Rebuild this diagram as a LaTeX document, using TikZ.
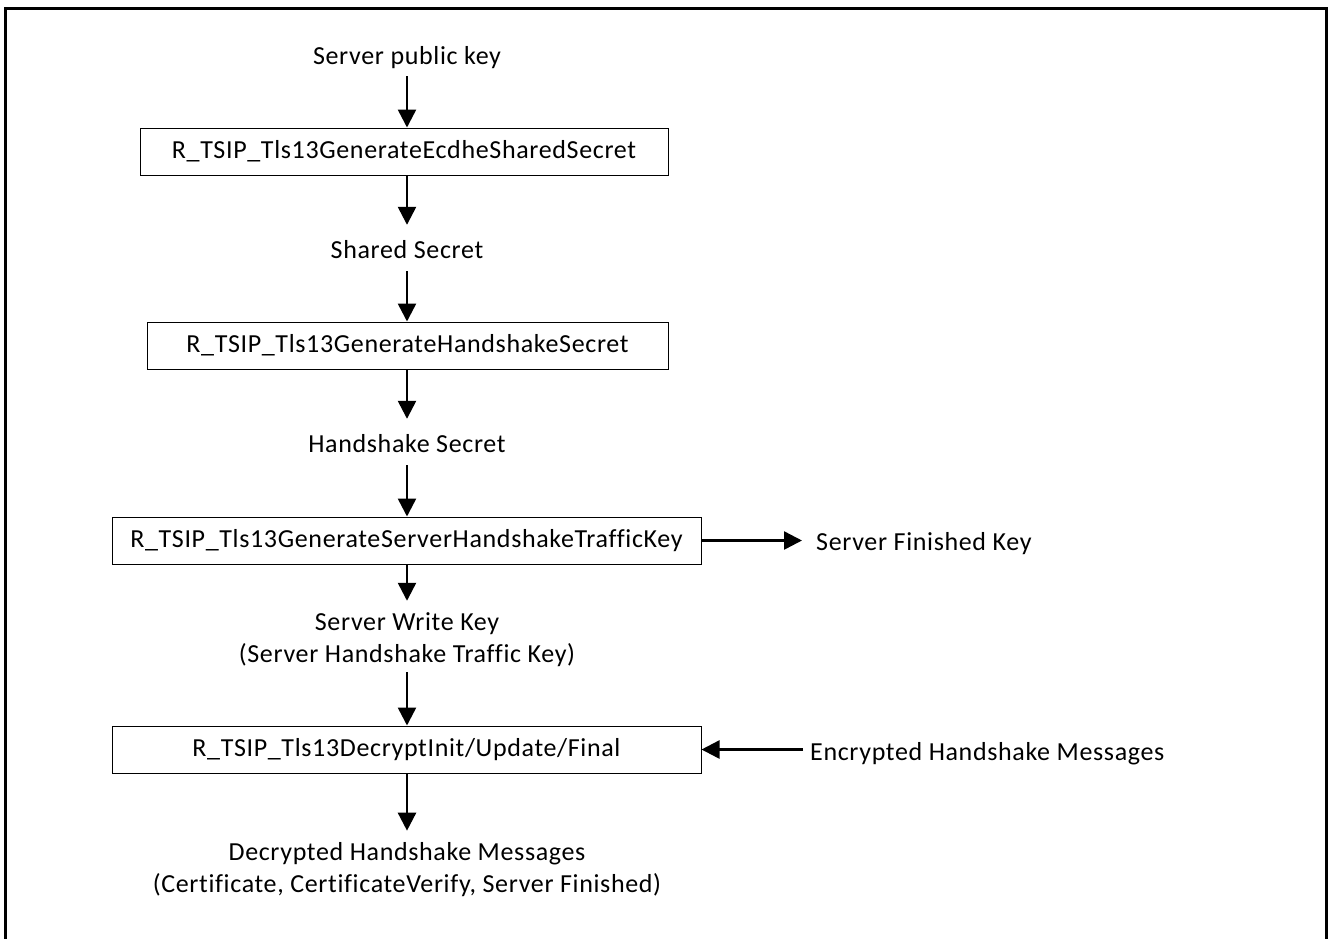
\documentclass[tikz,border=0pt]{standalone}
\usepackage{fontspec}
\setmainfont[Ligatures=NoCommon, LetterSpace=2.5]{Carlito}
\usetikzlibrary{arrows.meta}

\begin{document}
\begin{tikzpicture}[x=1pt, y=-1pt,
    every node/.style={font=\fontsize{26}{32}\selectfont, inner sep=0pt},
    flow/.style={-{Triangle[width=18pt,length=18pt]}, line width=2.5pt},
    func/.style={draw, line width=1pt, minimum height=47pt},
    txt/.style={anchor=base, text height=19pt, text depth=6pt}]
        \useasboundingbox (0,0) rectangle (1328,938);
        \draw[line width=3pt] (5,945) -- (5,8) -- (1326,8) -- (1326,945);

        \node[txt] (pubkey) at (407,64) {Server public key};
        \node[func, minimum width=528pt] (ecdhe) at (404,151.5) {R\_TSIP\_Tls13GenerateEcdheSharedSecret};
        \node[txt] (shared) at (407,258) {Shared Secret};
        \node[func, minimum width=521pt] (hssecret) at (407.5,345.5) {R\_TSIP\_Tls13GenerateHandshakeSecret};
        \node[txt] (hshake) at (407,452) {Handshake Secret};
        \node[func, minimum width=589pt] (trafkey) at (406.5,540.5) {R\_TSIP\_Tls13GenerateServerHandshakeTrafficKey};
        \node[align=center] (wkey) at (407,640) {Server Write Key\\(Server Handshake Traffic Key)};
        \node[func, minimum width=589pt] (decrypt) at (406.5,749.5) {R\_TSIP\_Tls13DecryptInit/Update/Final};
        \node[align=center] (result) at (407,870) {Decrypted Handshake Messages\\(Certificate, CertificateVerify, Server Finished)};
        \node[anchor=base west] (finkey) at (816,550) {Server Finished Key};
        \node[anchor=base west] (encmsg) at (810,760) {Encrypted Handshake Messages};

        \draw[flow, shorten <=6pt] (pubkey) -- (pubkey |- ecdhe.north);
        \draw[flow, shorten >=14pt] (ecdhe.south -| shared) -- (shared);
        \draw[flow, shorten <=7pt] (shared) -- (shared |- hssecret.north);
        \draw[flow, shorten >=14pt] (hssecret.south -| hshake) -- (hshake);
        \draw[flow, shorten <=7pt] (hshake) -- (hshake |- trafkey.north);
        \draw[flow, shorten >=12pt] (trafkey.south -| wkey) -- (wkey);
        \draw[flow, shorten <=5pt] (wkey) -- (wkey |- decrypt.north);
        \draw[flow, shorten >=12pt] (decrypt.south -| result) -- (result);
        \draw[flow, shorten >=14pt] (trafkey.east) -- (trafkey.east -| finkey.west);
        \draw[flow, shorten <=7pt] (decrypt.east -| encmsg.west) -- (decrypt.east);
\end{tikzpicture}
\end{document}
